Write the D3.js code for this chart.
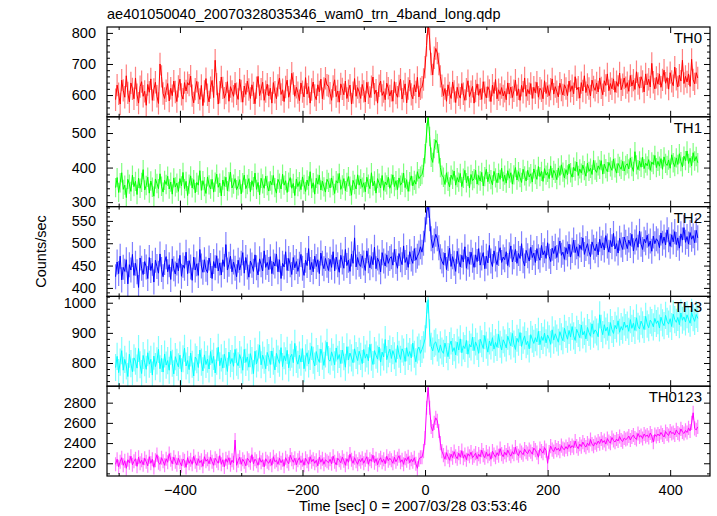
<!DOCTYPE html>
<html><head><meta charset="utf-8">
<script src="https://cdn.jsdelivr.net/npm/d3@7"></script>
<style>
body{margin:0;background:#fff}
svg{display:block}
text{font-family:"Liberation Sans",Arial,Helvetica,sans-serif;fill:#000}
</style>
</head><body>
<svg id="c" width="717" height="516"></svg>
<script>
// ---- data (2.5 s bins starting at t = -505 s) ----
const binStart = -505, binWidth = 2.5;
const th0 = [
585,632,604,571,648,615,593,662,607,578,639,620,588,655,601,574,627,643,596,612,
567,634,609,652,583,618,641,596,573,700,660,605,589,614,637,581,622,598,645,610,
579,628,651,602,587,640,613,640,632,661,598,575,619,644,607,586,631,566,612,653,
601,578,624,647,592,712,635,571,609,658,623,590,606,643,580,627,612,596,638,604,
586,651,613,577,629,602,645,618,589,633,607,572,624,660,598,619,641,583,611,635,
597,622,574,640,609,588,631,655,602,617,579,626,648,593,614,670,637,596,625,608,
582,639,611,594,656,603,627,574,618,642,599,585,633,610,651,588,621,654,632,629,
606,583,628,649,595,613,577,636,620,601,645,589,614,632,571,608,653,596,624,610,
589,634,612,578,641,607,592,627,658,603,616,574,630,645,599,611,585,638,622,597,
615,580,643,606,593,629,651,587,612,636,575,621,648,602,588,633,610,657,594,620,
625,650,690,760,830,780,700,665,720,750,735,700,660,630,
598,621,580,633,607,589,642,612,576,625,601,590,637,604,583,619,646,595,611,628,
574,613,636,599,620,586,643,608,591,627,615,579,632,605,650,588,617,602,624,597,
612,585,639,603,626,592,614,648,598,620,583,631,609,655,596,618,604,637,589,625,
607,641,593,622,614,588,646,605,630,598,619,652,603,627,611,594,638,616,600,633,
621,598,645,612,630,604,659,617,625,590,640,613,662,608,634,621,597,648,626,615,
639,610,655,623,601,646,631,668,614,637,620,652,609,643,628,671,617,633,655,624,
640,612,663,629,648,618,675,637,622,659,644,610,668,633,651,626,702,641,620,657,
635,668,625,649,680,638,656,619,672,644,630,690,651,626,664,645,712,637,660,642,
668,628,715,649,636,672,655];
const th1 = [
342,371,328,356,385,337,349,313,366,352,331,378,345,360,322,369,340,357,394,335,
348,372,326,361,343,317,367,354,339,382,346,329,363,351,375,338,358,323,370,344,
355,331,368,347,386,339,360,319,352,376,341,365,327,357,349,391,334,362,345,325,
373,350,338,366,329,358,381,343,355,318,364,346,372,333,359,387,341,352,368,336,
347,365,324,356,378,339,351,368,330,362,345,384,337,357,321,369,353,340,375,348,
332,361,350,377,342,326,366,355,338,381,349,362,328,358,371,340,354,319,367,345,
359,336,373,351,331,364,347,388,340,356,323,369,352,378,335,361,344,329,366,357,
341,370,348,325,362,355,383,337,350,368,333,357,374,346,320,363,351,338,379,349,
367,343,356,330,372,352,339,385,347,361,326,368,355,341,377,334,358,350,372,340,
353,379,345,362,336,370,349,357,384,342,365,331,359,376,347,363,352,388,368,375,
380,400,440,500,550,490,430,415,455,480,470,440,400,378,
372,351,385,360,344,378,366,390,349,371,358,383,345,369,392,356,375,341,380,362,
368,393,352,377,361,386,347,374,395,359,381,365,350,389,370,356,384,366,398,360,
378,355,391,369,385,352,379,400,364,388,371,357,395,376,361,392,373,382,358,396,
380,366,403,374,389,360,397,378,386,368,405,371,392,383,365,399,377,408,387,370,
394,379,410,385,372,401,390,416,377,396,384,407,391,375,413,389,398,380,421,393,
386,405,395,420,381,410,397,388,415,402,392,425,399,384,412,403,395,418,390,406,
411,396,428,403,389,446,408,394,419,401,430,397,413,405,423,392,416,409,435,400,
418,404,426,395,431,412,406,422,398,437,414,403,428,409,440,417,402,433,420,448,
412,428,405,443,419,432,414];
const th2 = [
425,458,432,471,418,446,437,463,409,452,440,475,428,455,436,401,467,444,430,459,
447,421,468,439,455,413,462,448,433,476,441,425,457,470,436,452,419,465,443,431,
456,438,473,426,451,444,480,432,461,447,417,469,440,454,428,486,449,435,463,442,
434,467,450,421,459,445,472,438,456,429,463,448,497,440,453,471,436,458,444,425,
462,440,455,479,433,468,447,424,460,451,437,474,445,429,465,452,438,483,446,457,
441,470,432,458,449,476,436,463,421,455,447,481,439,466,452,430,468,445,459,437,
453,475,444,428,462,450,488,441,457,436,471,448,463,432,478,455,443,466,451,439,
464,446,481,438,469,452,435,473,458,444,486,450,462,437,476,455,512,447,468,453,
448,472,456,439,483,461,445,470,452,491,443,467,458,436,479,460,449,474,455,466,
470,451,486,459,444,477,463,452,494,457,468,446,481,465,455,488,462,471,478,492,
480,500,530,570,585,555,510,490,505,520,510,490,470,460,
452,478,441,466,489,448,470,455,437,482,461,447,473,458,492,444,469,453,480,462,
446,474,459,488,451,467,479,443,471,456,495,460,448,483,465,452,477,490,457,469,
463,481,450,474,494,458,470,486,455,477,466,499,461,449,484,472,460,491,468,478,
457,488,470,462,495,474,483,466,501,471,459,489,477,493,468,485,505,473,480,464,
490,476,498,469,484,507,479,492,471,496,486,512,475,488,499,481,470,503,491,483,
498,474,509,489,501,485,517,494,480,506,492,522,487,499,478,511,496,486,514,502,
488,507,495,520,483,503,512,491,527,498,486,509,501,518,493,505,482,516,499,510,
505,490,523,500,514,496,530,508,493,519,503,526,497,512,489,521,507,535,502,515,
498,524,509,517,501,529,512];
const th3 = [
785,822,768,803,841,776,812,790,755,829,798,771,817,806,783,848,794,765,825,801,
779,834,796,812,760,823,788,807,845,781,815,770,830,793,808,776,839,799,764,821,
802,787,826,771,814,849,790,808,778,833,796,757,820,811,785,843,803,774,827,795,
813,780,838,799,822,767,806,852,791,817,783,829,805,772,836,798,815,789,845,803,
791,828,810,776,845,802,820,786,831,808,765,839,797,817,860,794,826,809,781,835,
818,795,840,806,777,832,813,799,851,788,824,807,842,784,819,829,801,865,812,796,
826,803,848,781,817,834,797,822,855,809,790,838,815,802,846,823,792,830,869,811,
806,837,819,794,850,812,828,798,843,821,786,854,810,833,817,801,847,825,808,839,
822,798,845,816,830,807,862,819,795,841,826,813,853,803,836,820,878,811,831,846,
815,841,824,802,858,829,812,847,836,805,851,822,838,817,866,829,804,843,853,832,
845,860,880,960,1010,900,855,840,865,870,850,835,860,840,
832,866,845,821,858,873,838,851,827,869,843,880,834,857,848,875,829,862,853,886,
841,870,855,832,879,864,848,891,859,836,873,857,884,846,868,852,895,862,843,877,
866,850,889,871,857,898,863,845,882,869,901,855,876,890,861,872,847,894,879,865,
884,870,905,861,888,875,899,867,893,880,862,910,876,897,883,869,904,887,874,915,
895,879,908,886,921,890,875,912,898,884,926,893,905,880,918,901,889,930,896,910,
903,887,960,915,894,927,906,919,891,934,911,898,925,913,940,902,921,909,936,918,
926,905,944,915,932,908,950,922,913,939,927,911,955,929,917,942,934,920,948,931,
940,916,952,933,924,958,938,929,947,921,962,944,935,951,927,966,942,953,936,960,
945,932,968,950,938,961,948];
const th0123 = [
2190,2240,2165,2215,2255,2180,2225,2150,2235,2205,2270,2185,2220,2245,2170,2260,2200,2230,2185,2250,
2215,2175,2265,2200,2240,2160,2230,2285,2205,2190,2255,2220,2180,2245,2210,2295,2235,2195,2260,2215,
2185,2250,2210,2175,2240,2225,2160,2255,2200,2235,2190,2270,2215,2180,2245,2205,2230,2170,2265,2220,
2240,2195,2260,2215,2180,2250,2225,2200,2275,2190,2235,2165,2245,2210,2255,2185,2230,2205,2430,2180,
2225,2260,2190,2240,2215,2175,2250,2230,2205,2285,2195,2240,2220,2180,2255,2210,2235,2165,2245,2215,
2200,2240,2180,2265,2215,2230,2190,2250,2205,2235,2170,2255,2220,2195,2280,2240,2210,2250,2185,2230,
2255,2205,2235,2180,2250,2220,2190,2265,2215,2240,2200,2230,2175,2260,2210,2245,2190,2235,2220,2205,
2240,2195,2270,2215,2185,2250,2230,2205,2260,2225,2180,2245,2210,2290,2235,2200,2255,2220,2190,2240,
2215,2250,2200,2235,2265,2190,2240,2220,2280,2205,2245,2185,2230,2255,2210,2240,2195,2270,2225,2250,
2230,2200,2260,2215,2245,2275,2210,2235,2190,2250,2225,2265,2205,2240,2215,2255,2195,2150,2235,2260,
2260,2320,2450,2750,2950,2750,2560,2520,2600,2650,2620,2520,2400,2320,
2280,2240,2305,2265,2230,2290,2255,2315,2270,2245,2300,2260,2325,2250,2285,2235,2295,2270,2310,2255,
2275,2300,2245,2290,2265,2330,2280,2255,2310,2270,2295,2240,2320,2285,2260,2305,2275,2345,2290,2265,
2310,2280,2330,2295,2270,2315,2290,2360,2300,2275,2325,2305,2285,2340,2310,2295,2335,2315,2290,2350,
2330,2305,2260,2345,2320,2300,2355,2325,2200,2310,2370,2335,2315,2360,2330,2350,2320,2375,2345,2335,
2365,2340,2385,2350,2375,2355,2420,2370,2345,2390,2365,2410,2380,2360,2400,2375,2435,2390,2370,2405,
2385,2420,2395,2440,2405,2425,2390,2445,2415,2400,2455,2425,2410,2440,2420,2465,2430,2415,2450,2435,
2445,2470,2430,2460,2480,2450,2435,2495,2460,2475,2445,2490,2465,2480,2455,2500,2470,2410,2485,2465,
2490,2470,2505,2480,2460,2515,2490,2475,2520,2495,2505,2480,2530,2500,2485,2540,2510,2495,2525,2505,
2550,2520,2600,2700,2545,2530,2560];

const seriesNames = ["TH0","TH1","TH2","TH3","TH0123"];
const seriesValues = [th0, th1, th2, th3, th0123];
const seriesErrors = [36, 28, 28, 45, 70];
const seriesColors = ["#ff0000","#00ff00","#0000ff","#00ffff","#ff00ff"];
const yDomains = [[530,819],[287,547],[381,582],[723,1021],[2074,2963]];
const yTickLabels = [[600,700,800],[300,400,500],[400,450,500,550],[800,900,1000],[2200,2400,2600,2800]];
const yMinorSteps = [20,20,10,20,100];
const xDomain = [-519, 465];
const xTickLabels = [-400,-200,0,200,400];
const xMinorStep = 100;
const titleText = "ae401050040_20070328035346_wam0_trn_4band_long.qdp";
const xLabelText = "Time [sec] 0 = 2007/03/28 03:53:46";
const yLabelText = "Counts/sec";

// ---- layout ----
const L = 107, R = 710, T = 27, B = 476;
const nP = seriesNames.length;
const pH = (B - T) / nP;
const FS = 14.5;

const svg = d3.select("#c");
const x = d3.scaleLinear().domain(xDomain).range([L, R]);

function range(lo, hi, step) {
  const out = [];
  const s = Math.ceil(lo / step) * step;
  for (let v = s; v <= hi + 1e-9; v += step) out.push(+v.toFixed(6));
  return out;
}
const xMinorTicks = range(xDomain[0], xDomain[1], xMinorStep).filter(v => !xTickLabels.includes(v));

seriesNames.forEach((name, p) => {
  const y0 = T + p * pH, y1 = y0 + pH;
  const y = d3.scaleLinear().domain(yDomains[p]).range([y1, y0]);
  const g = svg.append("g");
  const clipId = "clip" + p;
  svg.append("clipPath").attr("id", clipId).append("rect")
    .attr("x", L).attr("y", y0).attr("width", R - L).attr("height", pH);

  const data = seriesValues[p].map((v, i) => ({t: binStart + i * binWidth, v}));
  const color = seriesColors[p];
  const dg = g.append("g").attr("clip-path", `url(#${clipId})`);
  dg.selectAll("line.err").data(data).enter().append("line")
    .attr("x1", d => x(d.t)).attr("x2", d => x(d.t))
    .attr("y1", d => y(d.v - seriesErrors[p])).attr("y2", d => y(d.v + seriesErrors[p]))
    .attr("stroke", color).attr("stroke-opacity", 0.5).attr("stroke-width", 1.2);
  dg.append("path").datum(data)
    .attr("d", d3.line().x(d => x(d.t)).y(d => y(d.v)))
    .attr("fill", "none").attr("stroke", color).attr("stroke-width", 1);

  const yMinor = range(yDomains[p][0], yDomains[p][1], yMinorSteps[p]).filter(v => !yTickLabels[p].includes(v));
  const axL = g.append("g").attr("transform", `translate(${L},0)`)
    .call(d3.axisLeft(y).tickValues(yTickLabels[p]).tickSize(-6).tickPadding(11).tickFormat(d3.format("d")));
  axL.append("g").call(d3.axisLeft(y).tickValues(yMinor).tickSize(-3).tickFormat(""));
  const axR = g.append("g").attr("transform", `translate(${R},0)`)
    .call(d3.axisRight(y).tickValues(yTickLabels[p]).tickSize(-6).tickFormat(""));
  axR.append("g").call(d3.axisRight(y).tickValues(yMinor).tickSize(-3).tickFormat(""));

  const axT = g.append("g").attr("transform", `translate(0,${y0})`)
    .call(d3.axisTop(x).tickValues(xTickLabels).tickSize(-6).tickFormat(""));
  axT.append("g").call(d3.axisTop(x).tickValues(xMinorTicks).tickSize(-3).tickFormat(""));
  const axB = g.append("g").attr("transform", `translate(0,${y1})`)
    .call(d3.axisBottom(x).tickValues(xTickLabels).tickSize(-6).tickPadding(9)
      .tickFormat(p === nP - 1 ? d3.format("d") : ""));
  axB.append("g").call(d3.axisBottom(x).tickValues(xMinorTicks).tickSize(-3).tickFormat(""));

  g.selectAll(".domain").remove();
  g.selectAll(".tick line").attr("stroke", "#000").attr("stroke-width", 1);
  g.selectAll(".tick text").attr("font-size", FS).attr("fill", "#000")
    .attr("font-family", '"Liberation Sans",Arial,sans-serif');

  g.append("rect").attr("x", L).attr("y", y0).attr("width", R - L).attr("height", pH)
    .attr("fill", "none").attr("stroke", "#000").attr("stroke-width", 1.2);

  g.append("text").attr("x", R - 8).attr("y", y0 + 16).attr("text-anchor", "end")
    .attr("font-size", 15).text(name);
});

svg.append("text").attr("x", L).attr("y", 19).attr("font-size", FS).text(titleText);
svg.append("text").attr("x", 413).attr("y", 511).attr("text-anchor", "middle").attr("font-size", FS).text(xLabelText);
svg.append("text").attr("transform", `translate(46,${(T + B) / 2}) rotate(-90)`)
  .attr("text-anchor", "middle").attr("font-size", FS).text(yLabelText);
</script>
</body></html>
